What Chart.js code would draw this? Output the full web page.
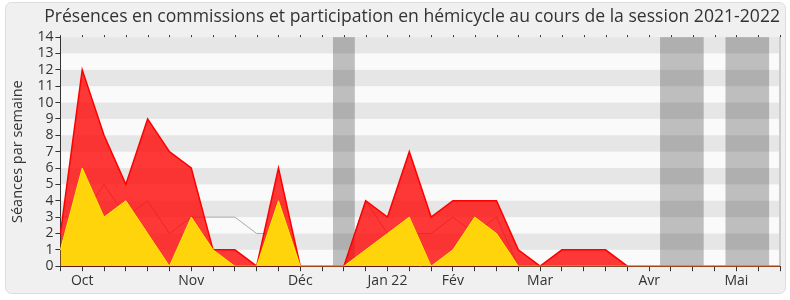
<!DOCTYPE html>
<html>
<head>
<meta charset="utf-8">
<script src="https://cdn.jsdelivr.net/npm/chart.js@4"></script>
<style>
  html, body { margin: 0; padding: 0; background: #ffffff; }
  #wrap { width: 790px; height: 300px; }
</style>
</head>
<body>
<div id="wrap"><canvas id="graph" width="790" height="300"></canvas></div>
<script>
// semaines de la session (index de semaine)
const semaines = [];
for (let i = 0; i <= 33; i++) semaines.push(i);

// présences en commission (rouge)
const presencesCommission = [2, 12, 8, 5, 9, 7, 6, 1, 1, 0, 6, 0, 0, 0, 4, 3, 7, 3, 4, 4, 4, 1, 0, 1, 1, 1, 0, 0, 0, 0, 0, 0, 0, 0];

// participations en hémicycle (jaune)
const participationsHemicycle = [1, 6, 3, 4, 2, 0, 3, 1, 0, 0, 4, 0, 0, 0, 1, 2, 3, 0, 1, 3, 2, 0, 0, 0, 0, 0, 0, 0, 0, 0, 0, 0, 0, 0];

// médiane des députés (ligne grise)
const medianeDeputes = [3, 3, 5, 3, 4, 2, 3, 3, 3, 2, 2, 0, 0, 0, 4, 2, 2, 2, 3, 2, 3, 0, 0, 0, 0, 0, 0, 0, 0, 0, 0, 0, 0, 0];

// libellés des mois (semaine -> texte)
const moisSemaines = [1, 6, 11, 15, 18, 22, 27, 31];
const moisLabels = ['Oct', 'Nov', 'Déc', 'Jan 22', 'Fév', 'Mar', 'Avr', 'Mai'];

// vacances parlementaires (début, fin en semaines)
const vacancesDebut = [12.5, 27.5, 30.5];
const vacancesFin = [13.5, 29.5, 32.5];

const FONT = "'Open Sans', sans-serif";
const TEXT_COLOR = '#333333';

// fond, bandes et vacances
const fondPlugin = {
  id: 'fond',
  beforeDraw(chart) {
    const ctx = chart.ctx;
    const area = chart.chartArea;
    const x = chart.scales.x;
    const y = chart.scales.y;
    ctx.save();
    // cadre
    ctx.fillStyle = '#ffffff';
    ctx.fillRect(0, 0, chart.width, chart.height);
    ctx.beginPath();
    ctx.roundRect(5.5, 2.5, 780, 291, 6);
    ctx.fillStyle = '#f0f0f0';
    ctx.fill();
    ctx.strokeStyle = '#dddddd';
    ctx.lineWidth = 1;
    ctx.stroke();
    // zone de tracé
    ctx.fillStyle = '#fafafa';
    ctx.fillRect(area.left, area.top, area.right - area.left, area.bottom - area.top);
    // vacances
    ctx.fillStyle = '#bebebe';
    for (let i = 0; i < vacancesDebut.length; i++) {
      const x1 = x.getPixelForValue(vacancesDebut[i]);
      const x2 = x.getPixelForValue(vacancesFin[i]);
      ctx.fillRect(x1, area.top, x2 - x1, area.bottom - area.top);
    }
    // bandes
    ctx.fillStyle = 'rgba(0,0,0,0.08)';
    for (let v = 1; v < 14; v += 2) {
      const y1 = y.getPixelForValue(v + 1);
      const y2 = y.getPixelForValue(v);
      ctx.fillRect(area.left, y1, area.right - area.left, y2 - y1);
    }
    // bord droit
    ctx.fillStyle = '#cccccc';
    ctx.fillRect(area.right - 1, area.top, 2, area.bottom - area.top);
    // petits traits en haut
    ctx.fillStyle = '#333333';
    x.ticks.forEach(function(t, i) {
      const px = Math.round(x.getPixelForTick(i));
      ctx.fillRect(px, area.top - 2, 1, 2);
    });
    ctx.restore();
  }
};

const xLabels = semaines.map(function(s) {
  const k = moisSemaines.indexOf(s);
  return k >= 0 ? moisLabels[k] : '';
});

new Chart(document.getElementById('graph'), {
  type: 'line',
  data: {
    labels: xLabels,
    datasets: [
      {
        label: 'Participations en hémicycle',
        data: participationsHemicycle,
        fill: 'origin',
        backgroundColor: 'rgb(255,212,10)',
        borderColor: 'rgb(255,238,0)',
        borderWidth: 1,
        pointRadius: 0,
        tension: 0,
        order: 0
      },
      {
        label: 'Présences en commission',
        data: presencesCommission,
        fill: 'origin',
        backgroundColor: 'rgba(255,0,0,0.78)',
        borderColor: 'rgb(255,0,0)',
        borderWidth: 1.5,
        pointRadius: 0,
        tension: 0,
        order: 1
      },
      {
        label: 'Médiane des députés',
        data: medianeDeputes,
        fill: false,
        borderColor: '#aaaaaa',
        borderWidth: 1,
        pointRadius: 0,
        tension: 0,
        order: 2
      }
    ]
  },
  options: {
    responsive: false,
    animation: false,
    events: [],
    layout: { padding: { left: 9, right: 10, top: 0, bottom: 10 } },
    plugins: {
      legend: { display: false },
      tooltip: { enabled: false },
      title: {
        display: true,
        align: 'end',
        text: 'Présences en commissions et participation en hémicycle au cours de la session 2021-2022',
        color: TEXT_COLOR,
        font: { family: FONT, size: 17.6, weight: 'normal' },
        padding: { top: 6, bottom: 10 }
      }
    },
    scales: {
      x: {
        z: 1,
        offset: false,
        grid: { display: true, drawOnChartArea: false, drawTicks: true, tickLength: 5, color: '#333333' },
        border: { display: true, color: '#5a1a1a', width: 1 },
        ticks: {
          autoSkip: false,
          maxRotation: 0,
          color: TEXT_COLOR,
          font: { family: FONT, size: 14 },
          padding: 1
        }
      },
      y: {
        min: 0,
        max: 14,
        grid: { display: true, drawOnChartArea: false, drawTicks: true, tickLength: 5, color: '#333333' },
        border: { display: true, color: '#333333' },
        ticks: {
          stepSize: 1,
          autoSkip: false,
          color: TEXT_COLOR,
          font: { family: FONT, size: 14 },
          padding: 2
        },
        title: {
          display: true,
          text: 'Séances par semaine',
          color: TEXT_COLOR,
          font: { family: FONT, size: 14.5 },
          padding: { top: 0, bottom: 9 }
        }
      }
    }
  },
  plugins: [fondPlugin]
});
</script>
</body>
</html>
